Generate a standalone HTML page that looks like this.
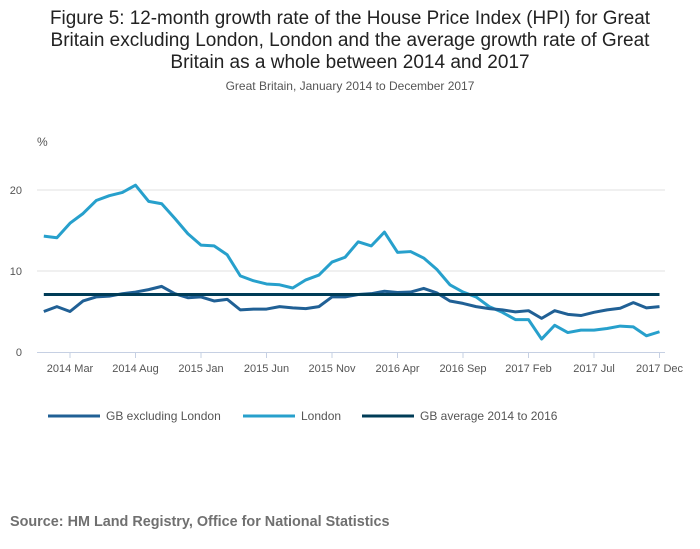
<!DOCTYPE html>
<html><head><meta charset="utf-8"><style>
body{margin:0;background:#fff;font-family:"Liberation Sans",sans-serif;}
#wrap{position:relative;width:700px;height:549px;overflow:hidden}
</style></head><body>
<div id="wrap">
<svg id="chart" width="700" height="549">
<text x="350" y="24" text-anchor="middle" font-size="19" fill="#222" textLength="600" lengthAdjust="spacingAndGlyphs">Figure 5: 12-month growth rate of the House Price Index (HPI) for Great</text>
<text x="350" y="46" text-anchor="middle" font-size="19" fill="#222">Britain excluding London, London and the average growth rate of Great</text>
<text x="350" y="68" text-anchor="middle" font-size="19" fill="#222">Britain as a whole between 2014 and 2017</text>
<text x="350" y="90" text-anchor="middle" font-size="12" fill="#555">Great Britain, January 2014 to December 2017</text>
<text x="37" y="146" font-size="12" fill="#555">%</text>
<g id="grid"></g><g id="series"></g><g id="xaxis"></g>
<g>
<line x1="48" y1="416" x2="100" y2="416" stroke="#206095" stroke-width="3"/>
<text x="106" y="420" font-size="12" fill="#555">GB excluding London</text>
<line x1="243" y1="416" x2="295" y2="416" stroke="#27a0cc" stroke-width="3"/>
<text x="301" y="420" font-size="12" fill="#555">London</text>
<line x1="362" y1="416" x2="414" y2="416" stroke="#003c57" stroke-width="3"/>
<text x="420" y="420" font-size="12" fill="#555">GB average 2014 to 2016</text>
</g>
<text x="10" y="526" font-size="14.4" font-weight="bold" fill="#707070">Source: HM Land Registry, Office for National Statistics</text>
</svg></div>
<script>
const london=[14.3,14.1,15.9,17.1,18.7,19.3,19.7,20.6,18.6,18.3,16.5,14.6,13.2,13.1,12.0,9.4,8.8,8.4,8.3,7.9,8.9,9.5,11.1,11.7,13.6,13.1,14.8,12.3,12.4,11.6,10.2,8.3,7.4,6.8,5.6,4.9,4.0,4.0,1.6,3.3,2.4,2.7,2.7,2.9,3.2,3.1,2.0,2.5];
const gbExLondon=[5.0,5.6,5.0,6.3,6.8,6.9,7.2,7.4,7.7,8.1,7.2,6.7,6.8,6.3,6.5,5.2,5.3,5.3,5.6,5.45,5.35,5.6,6.8,6.8,7.1,7.2,7.5,7.35,7.4,7.85,7.3,6.3,6.0,5.6,5.35,5.2,4.95,5.1,4.15,5.1,4.65,4.5,4.9,5.2,5.4,6.1,5.45,5.6];
const gbAverage=7.1;
const yTicks=[0,10,20];
const xTickLabels=["2014 Mar","2014 Aug","2015 Jan","2015 Jun","2015 Nov","2016 Apr","2016 Sep","2017 Feb","2017 Jul","2017 Dec"];
const xTickIndex=[2,7,12,17,22,27,32,37,42,47];
const NS="http://www.w3.org/2000/svg";
const xS=i=>43.8+i*13.1, yS=v=>352-v*8.1;
function mk(t,a,p){const e=document.createElementNS(NS,t);for(const k in a)e.setAttribute(k,a[k]);p.appendChild(e);return e;}
const grid=document.getElementById('grid'),ser=document.getElementById('series'),xa=document.getElementById('xaxis');
yTicks.forEach(v=>{
 if(v>0){const l=mk('line',{x1:37,x2:665,y1:yS(v),y2:yS(v),stroke:'#e0e0e0'},grid);
 
 }
 const t=mk('text',{x:22,y:yS(v)+4,'font-size':11,fill:'#555','text-anchor':'end'},grid);t.textContent=v;
 
 
});
const ax=mk('line',{x1:37,x2:665,y1:352.5,y2:352.5,stroke:'#c6d0e3'},xa);


xTickLabels.forEach((s,k)=>{const x=xS(xTickIndex[k]);
 mk('line',{x1:x,x2:x,y1:352,y2:358,stroke:'#c6d0e3'},xa);
 const t=mk('text',{x:x,y:372,'font-size':11,fill:'#555','text-anchor':'middle'},xa);t.textContent=s;
 
 });
function line(d,c,n){const p=mk('polyline',{points:d.map((v,i)=>xS(i)+','+yS(v)).join(' '),fill:'none',stroke:c,'stroke-width':3,'stroke-linejoin':'round'},ser);
 
 }
line(london,'#27a0cc','london-line');
line(gbExLondon,'#206095','gb-excluding-london-line');
line(london.map(()=>gbAverage),'#003c57','gb-average-line');
</script></body></html>
